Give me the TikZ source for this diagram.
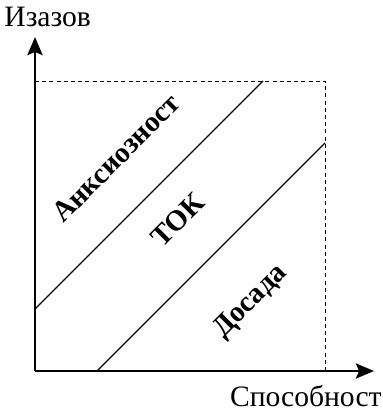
\documentclass[tikz,border=0pt]{standalone}
\usepackage{fontspec}
\setmainfont{Liberation Serif}
\usetikzlibrary{positioning, arrows.meta}

\begin{document}
\begin{tikzpicture}[
        x=0.5pt, y=-0.5pt,
        axis/.style={line width=1.4pt, -{Stealth[length=9pt, width=7.5pt, inset=1.5pt]}},
        border/.style={line width=0.4pt, dash pattern=on 2pt off 1.6pt},
        band/.style={line width=0.6pt},
        axislabel/.style={font=\fontsize{14.8}{17}\selectfont, inner sep=0pt},
        zone/.style={font=\fontsize{14.5}{17}\selectfont\bfseries, rotate=45, inner sep=0pt}
    ]
    \useasboundingbox (0,0) rectangle (383,416);

    % Coordinates
    \coordinate (O) at (35,371);
    \coordinate (Ytip) at (35,37);
    \coordinate (Xtip) at (374,371);
    \coordinate (TL) at (35,81);
    \coordinate (TR) at (325,81);
    \coordinate (BR) at (325,371);
    \coordinate (UpA) at (35,309);
    \coordinate (UpB) at (263,81);
    \coordinate (LowA) at (97,371);
    \coordinate (LowB) at (325,143);

    % Nodes
    \node (Challenge) [axislabel, anchor=base west] at (4,27) {Изазов};
    \node (Skill) [axislabel, anchor=base east] at (382,406) {Способност};
    \node (Anxiety) [zone] at (116,158) {Анксиозност};
    \node (Flow) [zone] at (178,220) {ТОК};
    \node (Boredom) [zone] at (251,302) {Досада};

    % Lines
    \draw [border] (TL) -- (TR) -- (BR);
    \draw [band] (UpA) -- (UpB);
    \draw [band] (LowA) -- (LowB);

    % Arrows
    \draw [axis] (O) -- (Ytip);
    \draw [axis] (O) -- (Xtip);
\end{tikzpicture}
\end{document}
